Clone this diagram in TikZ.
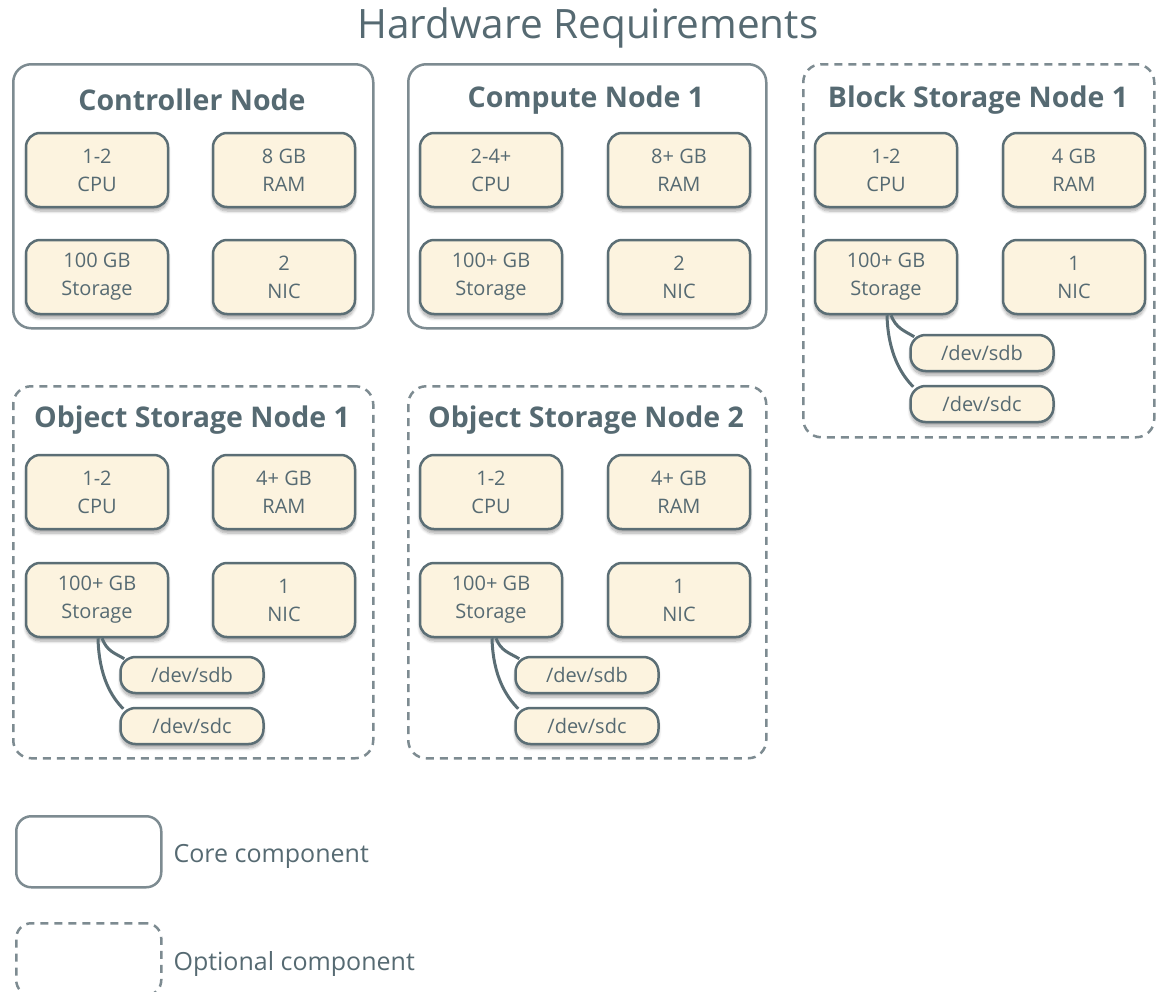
\documentclass[tikz,border=0pt]{standalone}
\usepackage{fontspec}
\setmainfont{Open Sans}
\usetikzlibrary{shadows.blur}
\definecolor{outer}{HTML}{7D8B91}
\definecolor{inner}{HTML}{5B6E75}
\definecolor{cream}{HTML}{FCF3DF}
\definecolor{txt}{HTML}{566A72}
\tikzset{
  corebox/.style={draw=outer, line width=2.5pt, rounded corners=18pt, anchor=north west, inner sep=0pt},
  optbox/.style={corebox, dash pattern=on 8pt off 6pt},
  comp/.style={draw=inner, fill=cream, line width=2.5pt, rounded corners=14pt,
    minimum width=142pt, minimum height=74pt, align=center, inner sep=0pt,
    font=\fontsize{20}{28}\selectfont, text=txt,
    blur shadow={shadow xshift=0pt, shadow yshift=-4pt, shadow blur steps=6, shadow opacity=35, shadow blur radius=3pt}},
  dev/.style={comp, minimum width=143pt, minimum height=36pt, rounded corners=15pt},
  ntitle/.style={font=\fontsize{28.5}{34}\selectfont\bfseries, text=txt},
  conn/.style={draw=inner, line width=3pt},
  legtext/.style={font=\fontsize{25}{30}\selectfont, text=txt, anchor=west}
}
\begin{document}
\begin{tikzpicture}[x=1pt, y=-1pt]
\useasboundingbox (0,0) rectangle (1156,991);
\node[font=\fontsize{40.5}{48}\selectfont, text=txt] (title) at (588,28) {Hardware Requirements};

% Controller
\begin{scope}[shift={(12,63)}]
\node[corebox, minimum width=360pt, minimum height=264pt] (ctrl) at (0,0) {};
\node[ntitle] (ctrlt) at (180,37) {Controller Node};
\node[comp] (ctrlcpu) at (85,107) {1-2\\CPU};
\node[comp] (ctrlram) at (272,107) {8 GB\\RAM};
\node[comp] (ctrlst) at (85,214) {100 GB\\Storage};
\node[comp] (ctrlnic) at (272,214) {2\\NIC};
\end{scope}

% Compute
\begin{scope}[shift={(407,63)}]
\node[corebox, minimum width=358pt, minimum height=264pt] (comp) at (0,0) {};
\node[ntitle] (compt) at (179,37) {Compute Node 1};
\node[comp] (compcpu) at (84,107) {2-4+\\CPU};
\node[comp] (compram) at (272,107) {8+ GB\\RAM};
\node[comp] (compst) at (84,214) {100+ GB\\Storage};
\node[comp] (compnic) at (272,214) {2\\NIC};
\end{scope}

% Block storage
\begin{scope}[shift={(802,63)}]
\node[optbox, minimum width=351pt, minimum height=373pt] (blk) at (0,0) {};
\node[ntitle] (blkt) at (176,37) {Block Storage Node 1};
\node[comp] (blkcpu) at (84,107) {1-2\\CPU};
\node[comp] (blkram) at (272,107) {4 GB\\RAM};
\node[comp] (blkst) at (84,214) {100+ GB\\Storage};
\node[comp] (blknic) at (272,214) {1\\NIC};
\node[dev] (blksdb) at (180,290) {/dev/sdb};
\node[dev] (blksdc) at (180,341) {/dev/sdc};
\end{scope}
\draw[conn] ([xshift=5pt]blkst.south) .. controls +(5,13) and +(-10,-6) .. ([xshift=5pt,yshift=-3pt]blksdb.north west);
\draw[conn] ([xshift=1pt]blkst.south) .. controls +(1,38) and +(-12,-12) .. ([xshift=4pt,yshift=-2pt]blksdc.north west);

% Object storage 1
\begin{scope}[shift={(12,385)}]
\node[optbox, minimum width=360pt, minimum height=372pt] (os1) at (0,0) {};
\node[ntitle] (os1t) at (180,35) {Object Storage Node 1};
\node[comp] (os1cpu) at (85,107) {1-2\\CPU};
\node[comp] (os1ram) at (272,107) {4+ GB\\RAM};
\node[comp] (os1st) at (85,215) {100+ GB\\Storage};
\node[comp] (os1nic) at (272,215) {1\\NIC};
\node[dev] (os1sdb) at (180,290) {/dev/sdb};
\node[dev] (os1sdc) at (180,341) {/dev/sdc};
\end{scope}
\draw[conn] ([xshift=5pt]os1st.south) .. controls +(5,13) and +(-10,-6) .. ([xshift=5pt,yshift=-3pt]os1sdb.north west);
\draw[conn] ([xshift=1pt]os1st.south) .. controls +(1,38) and +(-12,-12) .. ([xshift=4pt,yshift=-2pt]os1sdc.north west);

% Object storage 2
\begin{scope}[shift={(407,385)}]
\node[optbox, minimum width=358pt, minimum height=372pt] (os2) at (0,0) {};
\node[ntitle] (os2t) at (179,35) {Object Storage Node 2};
\node[comp] (os2cpu) at (84,107) {1-2\\CPU};
\node[comp] (os2ram) at (272,107) {4+ GB\\RAM};
\node[comp] (os2st) at (84,215) {100+ GB\\Storage};
\node[comp] (os2nic) at (272,215) {1\\NIC};
\node[dev] (os2sdb) at (180,290) {/dev/sdb};
\node[dev] (os2sdc) at (180,341) {/dev/sdc};
\end{scope}
\draw[conn] ([xshift=5pt]os2st.south) .. controls +(5,13) and +(-10,-6) .. ([xshift=5pt,yshift=-3pt]os2sdb.north west);
\draw[conn] ([xshift=1pt]os2st.south) .. controls +(1,38) and +(-12,-12) .. ([xshift=4pt,yshift=-2pt]os2sdc.north west);

% Legend
\node[corebox, rounded corners=15pt, minimum width=145pt, minimum height=71pt] (legcore) at (15,815) {};
\node[legtext] (legcoret) at (170,856) {Core component};
\node[optbox, rounded corners=15pt, minimum width=145pt, minimum height=72pt] (legopt) at (15,922) {};
\node[legtext] (legoptt) at (170,964) {Optional component};
\end{tikzpicture}
\end{document}
